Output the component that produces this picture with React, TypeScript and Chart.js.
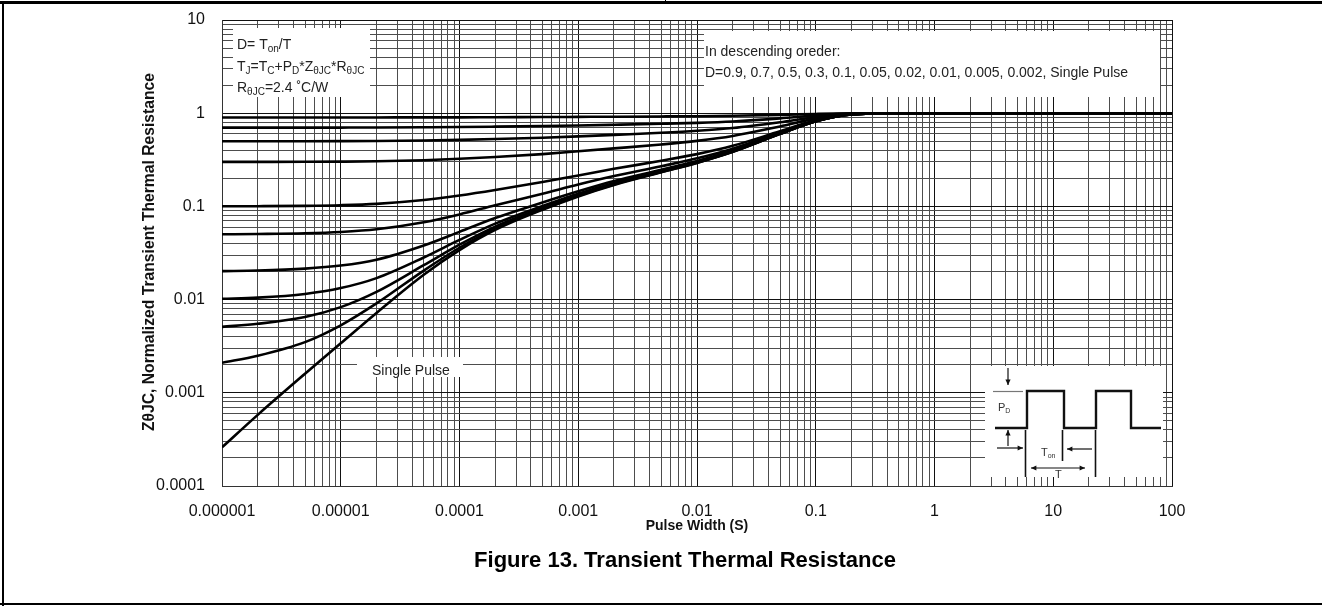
import React, { useEffect, useRef } from 'react';
import { Chart, registerables } from 'chart.js';

Chart.register(...registerables);

// ---- data ----
const pulseWidth = [1e-6, 2e-6, 5e-6, 1e-5, 2e-5, 5e-5, 1e-4, 2e-4, 5e-4, 1e-3, 2e-3, 5e-3, 1e-2, 2e-2, 5e-2, 0.1, 0.2, 0.5, 1, 10, 100];

const seriesNames = ['D=0.9', 'D=0.7', 'D=0.5', 'D=0.3', 'D=0.1', 'D=0.05', 'D=0.02', 'D=0.01', 'D=0.005', 'D=0.002', 'Single Pulse'];

const zD090 = [0.9, 0.9001, 0.9002, 0.9003, 0.9007, 0.902, 0.903, 0.906, 0.909, 0.913, 0.917, 0.923, 0.929, 0.939, 0.96, 0.982, 0.997, 1, 1, 1, 1];
const zD070 = [0.7001, 0.7002, 0.7005, 0.701, 0.702, 0.706, 0.71, 0.717, 0.728, 0.738, 0.751, 0.77, 0.788, 0.816, 0.88, 0.946, 0.991, 1, 1, 1, 1];
const zD050 = [0.5001, 0.5003, 0.5008, 0.5017, 0.5036, 0.509, 0.517, 0.528, 0.546, 0.564, 0.585, 0.616, 0.647, 0.693, 0.8, 0.91, 0.985, 1, 1, 1, 1];
const zD030 = [0.3002, 0.3004, 0.3011, 0.3024, 0.305, 0.313, 0.324, 0.339, 0.364, 0.39, 0.419, 0.462, 0.505, 0.57, 0.72, 0.874, 0.979, 1, 1, 1, 1];
const zD010 = [0.1002, 0.1005, 0.1014, 0.103, 0.1065, 0.117, 0.131, 0.15, 0.183, 0.215, 0.253, 0.309, 0.364, 0.447, 0.64, 0.838, 0.973, 1, 1, 1, 1];
const zD005 = [0.0502, 0.0506, 0.0515, 0.0532, 0.0568, 0.0676, 0.082, 0.103, 0.137, 0.172, 0.212, 0.27, 0.328, 0.416, 0.62, 0.83, 0.972, 1, 1, 1, 1];
const zD002 = [0.0202, 0.0205, 0.0215, 0.0232, 0.0268, 0.0381, 0.0533, 0.0749, 0.11, 0.145, 0.187, 0.247, 0.307, 0.397, 0.608, 0.824, 0.97, 1, 1, 1, 1];
const zD001 = [0.0102, 0.0105, 0.0115, 0.0133, 0.017, 0.0283, 0.0437, 0.0654, 0.101, 0.137, 0.178, 0.24, 0.3, 0.391, 0.604, 0.822, 0.97, 1, 1, 1, 1];
const zD0005 = [0.0051, 0.0055, 0.0065, 0.0083, 0.0121, 0.0234, 0.0388, 0.0607, 0.0965, 0.132, 0.174, 0.236, 0.297, 0.388, 0.6, 0.82, 0.97, 1, 1, 1, 1];
const zD0002 = [0.0021, 0.0025, 0.0035, 0.0053, 0.0091, 0.0205, 0.036, 0.058, 0.094, 0.13, 0.172, 0.234, 0.294, 0.386, 0.6, 0.82, 0.97, 1, 1, 1, 1];
const zSingle = [0.00026, 0.00058, 0.0016, 0.0034, 0.0072, 0.0185, 0.034, 0.056, 0.092, 0.128, 0.17, 0.232, 0.293, 0.385, 0.6, 0.82, 0.97, 1, 1, 1, 1];

const seriesValues = [zD090, zD070, zD050, zD030, zD010, zD005, zD002, zD001, zD0005, zD0002, zSingle];

const xDecadeLabels = ['0.000001', '0.00001', '0.0001', '0.001', '0.01', '0.1', '1', '10', '100'];
const yDecadeLabels = ['0.0001', '0.001', '0.01', '0.1', '1', '10'];
const X_MIN_EXP = -6;
const X_MAX_EXP = 2;
const Y_MIN_EXP = -4;
const Y_MAX_EXP = 1;

const FONT = '"Liberation Sans", Arial, Helvetica, sans-serif';

function logTicks(minExp: number, maxExp: number) {
  const t: any[] = [];
  for (let e = minExp; e < maxExp; e++) {
    for (let k = 1; k < 10; k++) t.push({ value: k * Math.pow(10, e), major: k === 1 });
  }
  t.push({ value: Math.pow(10, maxExp), major: true });
  return t;
}

function decadeLabel(v: number, minExp: number, labels: string[]) {
  const l = Math.log10(v);
  const r = Math.round(l);
  if (Math.abs(l - r) > 1e-6) return '';
  return labels[r - minExp] ?? '';
}

type Part = [string, boolean];
function drawRich(ctx: CanvasRenderingContext2D, parts: Part[], x: number, y: number, size: number) {
  let cx = x;
  for (const [t, sub] of parts) {
    const s = sub ? Math.round(size * 0.68) : size;
    ctx.font = `${s}px ${FONT}`;
    ctx.fillText(t, cx, sub ? y + size * 0.22 : y);
    cx += ctx.measureText(t).width;
  }
}

function arrow(ctx: CanvasRenderingContext2D, x1: number, y1: number, x2: number, y2: number, both = false) {
  ctx.beginPath();
  ctx.moveTo(x1, y1);
  ctx.lineTo(x2, y2);
  ctx.stroke();
  const head = (hx: number, hy: number, fx: number, fy: number) => {
    const a = Math.atan2(hy - fy, hx - fx);
    const L = 6;
    ctx.beginPath();
    ctx.moveTo(hx, hy);
    ctx.lineTo(hx - L * Math.cos(a - 0.45), hy - L * Math.sin(a - 0.45));
    ctx.lineTo(hx - L * Math.cos(a + 0.45), hy - L * Math.sin(a + 0.45));
    ctx.closePath();
    ctx.fill();
  };
  head(x2, y2, x1, y1);
  if (both) head(x1, y1, x2, y2);
}

const overlayPlugin = {
  id: 'overlay',
  beforeDatasetsDraw(chart: any) {
    const ctx = chart.ctx as CanvasRenderingContext2D;
    ctx.save();
    ctx.fillStyle = '#fff';
    // text boxes inside the grid
    ctx.fillRect(233, 28, 137, 69);
    ctx.fillRect(704, 31, 456, 66);
    ctx.fillRect(357, 357, 106, 20);
    ctx.fillRect(985, 366, 178, 111);
    ctx.restore();
  },
  afterDraw(chart: any) {
    const ctx = chart.ctx as CanvasRenderingContext2D;
    ctx.save();
    // page frame
    ctx.fillStyle = '#000';
    ctx.fillRect(0, 1, 1322, 3);
    ctx.fillRect(2, 1, 2, 605);
    ctx.fillRect(0, 603, 1322, 2);
    ctx.fillRect(665, 0, 1, 3);

    ctx.fillStyle = '#222';
    ctx.textAlign = 'left';
    ctx.textBaseline = 'alphabetic';
    // left note box
    drawRich(ctx, [['D= T', false], ['on', true], ['/T', false]], 237, 49, 14);
    drawRich(ctx, [['T', false], ['J', true], ['=T', false], ['C', true], ['+P', false], ['D', true], ['*Z', false], ['\u03B8JC', true], ['*R', false], ['\u03B8JC', true]], 237, 71, 14);
    drawRich(ctx, [['R', false], ['\u03B8JC', true], ['=2.4 \u02DAC/W', false]], 237, 92, 14);
    // right note box
    ctx.font = `14px ${FONT}`;
    ctx.fillText('In descending oreder:', 705, 56);
    ctx.fillText('D=0.9, 0.7, 0.5, 0.3, 0.1, 0.05, 0.02, 0.01, 0.005, 0.002, Single Pulse', 705, 77);
    // single pulse label
    ctx.fillText('Single Pulse', 372, 375);

    // inset waveform
    ctx.strokeStyle = '#111';
    ctx.fillStyle = '#111';
    ctx.lineWidth = 1.2;
    arrow(ctx, 1008, 368, 1008, 385);
    ctx.strokeStyle = '#777';
    ctx.beginPath();
    ctx.moveTo(993, 391.5);
    ctx.lineTo(1023, 391.5);
    ctx.stroke();
    ctx.strokeStyle = '#111';
    arrow(ctx, 1008, 446, 1008, 430);
    arrow(ctx, 997, 448, 1023, 448);
    arrow(ctx, 1092, 449, 1067, 449);
    arrow(ctx, 1031, 468, 1085, 468, true);
    ctx.lineWidth = 1.6;
    ctx.beginPath();
    ctx.moveTo(1025.5, 430); ctx.lineTo(1025.5, 477);
    ctx.moveTo(1062.5, 430); ctx.lineTo(1062.5, 461);
    ctx.moveTo(1095.5, 430); ctx.lineTo(1095.5, 477);
    ctx.stroke();
    ctx.lineWidth = 2.4;
    ctx.beginPath();
    ctx.moveTo(995, 428);
    ctx.lineTo(1027, 428); ctx.lineTo(1027, 391); ctx.lineTo(1064, 391); ctx.lineTo(1064, 428);
    ctx.lineTo(1096, 428); ctx.lineTo(1096, 391); ctx.lineTo(1131, 391); ctx.lineTo(1131, 428);
    ctx.lineTo(1161, 428);
    ctx.stroke();
    ctx.fillStyle = '#333';
    drawRich(ctx, [['P', false], ['D', true]], 998, 411, 11);
    drawRich(ctx, [['T', false], ['on', true]], 1041, 456, 11);
    ctx.font = `11px ${FONT}`;
    ctx.fillText('T', 1055, 478);

    // axis titles
    ctx.fillStyle = '#111';
    ctx.font = `bold 14px ${FONT}`;
    ctx.textAlign = 'center';
    ctx.textBaseline = 'middle';
    ctx.fillText('Pulse Width (S)', 697, 526);
    ctx.save();
    ctx.translate(150, 252);
    ctx.rotate(-Math.PI / 2);
    ctx.font = `bold 15.7px ${FONT}`;
    ctx.fillText('Z\u03B8JC, Normalized Transient Thermal Resistance', 0, 0);
    ctx.restore();
    ctx.font = `bold 22px ${FONT}`;
    ctx.fillStyle = '#000';
    ctx.fillText('Figure 13. Transient Thermal Resistance', 685, 561);
    ctx.restore();
  },
};

export default function App() {
  const ref = useRef<HTMLCanvasElement | null>(null);
  useEffect(() => {
    if (!ref.current) return;
    const gridColor = (c: any) => (c.tick && c.tick.major ? '#111' : '#4d4d4d');
    const chart = new Chart(ref.current, {
      type: 'line',
      data: {
        datasets: seriesNames.map((name, i) => ({
          label: name,
          data: pulseWidth.map((x, j) => ({ x, y: seriesValues[i][j] })),
          borderColor: '#000',
          backgroundColor: '#000',
          borderWidth: 2.6,
          pointRadius: 0,
          cubicInterpolationMode: 'monotone' as const,
          fill: false,
        })),
      },
      options: {
        animation: false,
        responsive: false,
        devicePixelRatio: 1,
        layout: { padding: { top: 20, right: 150, left: 0, bottom: 0 } },
        plugins: { legend: { display: false }, tooltip: { enabled: false }, title: { display: false } },
        scales: {
          x: {
            type: 'logarithmic',
            min: Math.pow(10, X_MIN_EXP),
            max: Math.pow(10, X_MAX_EXP),
            afterBuildTicks: (s: any) => { s.ticks = logTicks(X_MIN_EXP, X_MAX_EXP); },
            afterFit: (s: any) => { s.height = 121; s.paddingLeft = 0; s.paddingRight = 0; },
            grid: { color: gridColor, lineWidth: 1, drawTicks: false },
            border: { color: '#333', width: 1 },
            ticks: {
              autoSkip: false,
              maxRotation: 0,
              minRotation: 0,
              padding: 16,
              color: '#111',
              font: { family: FONT, size: 16 },
              callback: (v: any) => decadeLabel(Number(v), X_MIN_EXP, xDecadeLabels),
            },
          },
          y: {
            type: 'logarithmic',
            min: Math.pow(10, Y_MIN_EXP),
            max: Math.pow(10, Y_MAX_EXP),
            afterBuildTicks: (s: any) => { s.ticks = logTicks(Y_MIN_EXP, Y_MAX_EXP); },
            afterFit: (s: any) => { s.width = 222; s.paddingTop = 0; s.paddingBottom = 0; },
            grid: { color: gridColor, lineWidth: 1, drawTicks: false },
            border: { color: '#333', width: 1 },
            ticks: {
              autoSkip: false,
              padding: 17,
              color: '#111',
              font: { family: FONT, size: 16 },
              callback: (v: any) => decadeLabel(Number(v), Y_MIN_EXP, yDecadeLabels),
            },
          },
        },
      } as any,
      plugins: [overlayPlugin],
    });
    return () => chart.destroy();
  }, []);
  return (
    <div style={{ position: 'absolute', left: 0, top: 0, width: 1322, height: 607, background: '#fff' }}>
      <canvas ref={ref} width={1322} height={607} style={{ display: 'block', width: 1322, height: 607 }} />
    </div>
  );
}
